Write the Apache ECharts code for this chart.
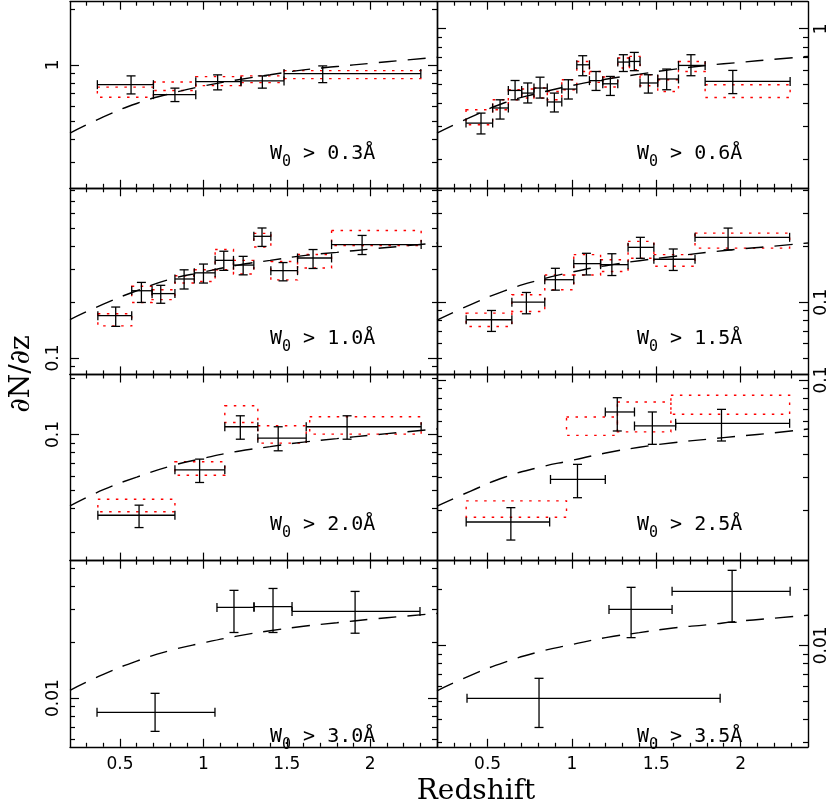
<!DOCTYPE html>
<html>
<head>
<meta charset="utf-8">
<title>dN/dz</title>
<script src="https://cdn.jsdelivr.net/npm/echarts@6/dist/echarts.min.js"></script>
<style>
body { margin: 0; background: #fff; }
#main { width: 830px; height: 807px; }
</style>
</head>
<body>
<div id="main"></div>
<script>
// W0 cuts, panels left->right, top->bottom
var cuts = ['0.3', '0.6', '1.0', '1.5', '2.0', '2.5', '3.0', '3.5'];

// log y range of each panel
var yMin = [0.218, 0.1397, 0.0817, 0.0409, 0.021, 0.0107, 0.00547, 0.00285];
var yMax = [2.19, 1.397, 0.817, 0.409, 0.21, 0.107, 0.0547, 0.0285];
var xLabels = [0.5, 1, 1.5, 2];

// [z mean, z low, z high, dN/dz, err low, err high]
var pts03 = [
    [0.566, 0.364, 0.700, 0.783, 0.698, 0.873],
    [0.829, 0.700, 0.954, 0.692, 0.635, 0.75],
    [1.085, 0.954, 1.225, 0.813, 0.734, 0.884],
    [1.353, 1.225, 1.483, 0.82, 0.75, 0.873],
    [1.715, 1.483, 2.303, 0.898, 0.803, 0.988]
];
var pts06 = [
    [0.461, 0.372, 0.530, 0.311, 0.272, 0.352],
    [0.574, 0.530, 0.623, 0.375, 0.327, 0.415],
    [0.663, 0.623, 0.702, 0.466, 0.415, 0.527],
    [0.738, 0.702, 0.775, 0.451, 0.399, 0.511],
    [0.811, 0.775, 0.854, 0.48, 0.424, 0.549],
    [0.896, 0.854, 0.94, 0.404, 0.357, 0.451],
    [0.979, 0.94, 1.029, 0.474, 0.419, 0.532],
    [1.064, 1.029, 1.104, 0.64, 0.559, 0.716],
    [1.143, 1.104, 1.183, 0.526, 0.466, 0.589],
    [1.228, 1.183, 1.272, 0.506, 0.438, 0.554],
    [1.305, 1.272, 1.341, 0.662, 0.589, 0.725],
    [1.370, 1.341, 1.404, 0.667, 0.595, 0.746],
    [1.453, 1.404, 1.509, 0.511, 0.451, 0.566],
    [1.562, 1.509, 1.632, 0.537, 0.47, 0.607],
    [1.706, 1.632, 1.79, 0.635, 0.559, 0.725],
    [1.954, 1.79, 2.294, 0.521, 0.448, 0.597]
];
var pts10 = [
    [0.474, 0.367, 0.57, 0.169, 0.148, 0.188],
    [0.628, 0.57, 0.692, 0.23, 0.199, 0.255],
    [0.744, 0.692, 0.829, 0.222, 0.197, 0.246],
    [0.884, 0.829, 0.945, 0.266, 0.235, 0.298],
    [1.0, 0.945, 1.07, 0.287, 0.253, 0.32],
    [1.122, 1.07, 1.18, 0.335, 0.296, 0.375],
    [1.238, 1.18, 1.302, 0.316, 0.28, 0.352],
    [1.351, 1.302, 1.404, 0.451, 0.398, 0.5],
    [1.477, 1.404, 1.564, 0.295, 0.26, 0.326],
    [1.657, 1.564, 1.768, 0.345, 0.303, 0.383],
    [1.951, 1.768, 2.305, 0.407, 0.36, 0.456]
];
var pts15 = [
    [0.523, 0.373, 0.644, 0.0804, 0.0696, 0.0902],
    [0.73, 0.644, 0.839, 0.1, 0.0866, 0.1127],
    [0.902, 0.839, 1.011, 0.132, 0.116, 0.152],
    [1.086, 1.011, 1.17, 0.161, 0.14, 0.183],
    [1.237, 1.17, 1.333, 0.159, 0.139, 0.182],
    [1.406, 1.333, 1.486, 0.197, 0.172, 0.223],
    [1.601, 1.486, 1.73, 0.17, 0.148, 0.193],
    [1.926, 1.73, 2.291, 0.223, 0.191, 0.25]
];
var pts20 = [
    [0.614, 0.367, 0.829, 0.0368, 0.0316, 0.0417],
    [0.977, 0.829, 1.128, 0.0646, 0.0552, 0.0737],
    [1.221, 1.128, 1.326, 0.11, 0.0943, 0.126],
    [1.448, 1.326, 1.616, 0.0955, 0.0817, 0.11],
    [1.861, 1.616, 2.305, 0.11, 0.0943, 0.126]
];
var pts25 = [
    [0.638, 0.373, 0.868, 0.01725, 0.0138, 0.0206],
    [1.033, 0.873, 1.198, 0.0292, 0.0233, 0.0352],
    [1.269, 1.198, 1.371, 0.0673, 0.0532, 0.0803],
    [1.477, 1.371, 1.615, 0.0566, 0.0451, 0.0673],
    [1.887, 1.615, 2.291, 0.0585, 0.047, 0.0695]
];
var pts30 = [
    [0.71, 0.362, 1.069, 0.00838, 0.00662, 0.0106],
    [1.183, 1.081, 1.303, 0.0307, 0.0225, 0.0379],
    [1.417, 1.303, 1.531, 0.031, 0.0225, 0.0388],
    [1.909, 1.531, 2.298, 0.0292, 0.0223, 0.0374]
];
var pts35 = [
    [0.805, 0.378, 1.879, 0.00519, 0.00362, 0.00665],
    [1.351, 1.22, 1.594, 0.0156, 0.011, 0.0205],
    [1.95, 1.594, 2.294, 0.0195, 0.0133, 0.0253]
];

// red dotted boxes: [z low, z high, dN/dz low, dN/dz high]
var box03 = [
    [0.364, 0.700, 0.67, 0.759], [0.700, 0.954, 0.728, 0.81], [0.954, 1.225, 0.774, 0.865],
    [1.225, 1.483, 0.803, 0.873], [1.483, 2.303, 0.844, 0.932]
];
var box06 = [
    [0.372, 0.530, 0.305, 0.367], [0.530, 0.623, 0.367, 0.415], [0.623, 0.702, 0.415, 0.47],
    [0.702, 0.775, 0.424, 0.474], [0.775, 0.854, 0.424, 0.48], [0.854, 0.94, 0.415, 0.46],
    [0.94, 1.029, 0.47, 0.532], [1.029, 1.104, 0.589, 0.667], [1.104, 1.183, 0.515, 0.589],
    [1.183, 1.272, 0.486, 0.55], [1.272, 1.341, 0.615, 0.696], [1.341, 1.404, 0.602, 0.71],
    [1.404, 1.509, 0.494, 0.566], [1.509, 1.632, 0.46, 0.532], [1.632, 1.79, 0.589, 0.667],
    [1.79, 2.294, 0.427, 0.5]
];
var box10 = [
    [0.367, 0.57, 0.149, 0.173], [0.57, 0.692, 0.199, 0.243], [0.692, 0.829, 0.206, 0.233],
    [0.829, 0.945, 0.253, 0.277], [0.945, 1.07, 0.258, 0.298], [1.07, 1.18, 0.298, 0.383],
    [1.18, 1.302, 0.283, 0.335], [1.302, 1.404, 0.395, 0.468], [1.404, 1.564, 0.263, 0.33],
    [1.564, 1.768, 0.305, 0.36], [1.768, 2.305, 0.402, 0.485]
];
var box15 = [
    [0.373, 0.644, 0.074, 0.0873], [0.644, 0.839, 0.0891, 0.1096], [0.839, 1.011, 0.1166, 0.14],
    [1.011, 1.17, 0.14, 0.18], [1.17, 1.333, 0.146, 0.169], [1.333, 1.486, 0.172, 0.212],
    [1.486, 1.73, 0.156, 0.18], [1.73, 2.291, 0.195, 0.235]
];
var box20 = [
    [0.367, 0.829, 0.0384, 0.0449], [0.829, 1.128, 0.0604, 0.0713], [1.128, 1.326, 0.116, 0.1426],
    [1.326, 1.616, 0.0898, 0.1113], [1.637, 2.305, 0.1004, 0.1245]
];
var box25 = [
    [0.373, 0.968, 0.0183, 0.0224], [0.968, 1.27, 0.0504, 0.0632],
    [1.27, 1.587, 0.0526, 0.0762], [1.587, 2.291, 0.0654, 0.0827]
];
var box30 = [];
var box35 = [];

// dashed model curve
var zCurve = [0.2, 0.4, 0.6, 0.8, 1.0, 1.2, 1.4, 1.6, 1.8, 2.0, 2.2, 2.4];
var fit03 = [0.43, 0.525, 0.62, 0.70, 0.77, 0.83, 0.885, 0.94, 0.98, 1.02, 1.06, 1.1];
var fit06 = [0.275, 0.335, 0.40, 0.45, 0.495, 0.535, 0.57, 0.605, 0.635, 0.66, 0.685, 0.71];
var fit10 = [0.161, 0.195, 0.23, 0.265, 0.29, 0.315, 0.335, 0.355, 0.37, 0.385, 0.40, 0.415];
var fit15 = [0.08, 0.097, 0.115, 0.131, 0.145, 0.157, 0.167, 0.176, 0.185, 0.193, 0.2, 0.208];
var fit20 = [0.0413, 0.0505, 0.059, 0.0675, 0.0745, 0.081, 0.086, 0.091, 0.095, 0.099, 0.103, 0.107];
var fit25 = [0.021, 0.0253, 0.030, 0.0338, 0.037, 0.0405, 0.0435, 0.046, 0.048, 0.050, 0.052, 0.0545];
var fit30 = [0.011, 0.0134, 0.0158, 0.018, 0.0198, 0.0215, 0.023, 0.0243, 0.0254, 0.0265, 0.0275, 0.0285];
var fit35 = [0.0057, 0.0069, 0.0081, 0.0092, 0.0101, 0.011, 0.0117, 0.0124, 0.0129, 0.0135, 0.014, 0.0145];

var allPts = [pts03, pts06, pts10, pts15, pts20, pts25, pts30, pts35];
var allBox = [box03, box06, box10, box15, box20, box25, box30, box35];
var allFit = [fit03, fit06, fit10, fit15, fit20, fit25, fit30, fit35];

// panel layout in px
var colLeft = [70, 437], colWidth = [367, 371];
var rowTop = [1.7, 188.3, 374.5, 560.7], rowH = 186.1;
// where the W0 label sits below each row's top edge
var labelDrop = [137, 135, 135, 161];

var black = '#000';

var xMinor = [];
for (var v = 3; v <= 23; v++) {
    if (v % 5 !== 0) xMinor.push(v / 10);
}

function logTicks(lo, hi) {
    var major = [], minor = [];
    for (var e = Math.floor(Math.log10(lo)); e <= Math.ceil(Math.log10(hi)); e++) {
        for (var k = 1; k <= 9; k++) {
            var t = +(k * Math.pow(10, e)).toPrecision(6);
            if (t <= lo || t >= hi) continue;
            (k === 1 ? major : minor).push(t);
        }
    }
    return { major: major, minor: minor };
}

function xAx(i, pos, vals, len, line, label) {
    return {
        type: 'value', gridIndex: i, position: pos, min: 0.2, max: 2.4,
        axisLine: { show: line, onZero: false, lineStyle: { color: black, width: 1.4 } },
        axisTick: { show: true, inside: true, length: len, customValues: vals, lineStyle: { color: black, width: 1.2 } },
        axisLabel: { show: label, customValues: vals, margin: 9, color: black, fontSize: 17, fontFamily: 'DejaVu Sans' },
        splitLine: { show: false }
    };
}

function yAx(i, pos, vals, len, line, label) {
    return {
        type: 'log', logBase: 10, gridIndex: i, position: pos, min: yMin[i], max: yMax[i],
        axisLine: { show: line, lineStyle: { color: black, width: 1.4 } },
        axisTick: { show: true, inside: true, length: len, customValues: vals, lineStyle: { color: black, width: 1.2 } },
        axisLabel: {
            show: label, customValues: vals, rotate: 90, margin: pos === 'left' ? 8 : 5,
            color: black, fontSize: 17, fontFamily: 'DejaVu Sans'
        },
        splitLine: { show: false }
    };
}

function seg(x1, y1, x2, y2) {
    return { type: 'line', shape: { x1: x1, y1: y1, x2: x2, y2: y2 }, style: { stroke: black, lineWidth: 1.3 } };
}

function renderCross(params, api) {
    var zc = api.value(0), z0 = api.value(1), z1 = api.value(2);
    var y = api.value(3), y0 = api.value(4), y1 = api.value(5);
    var l = api.coord([z0, y]), r = api.coord([z1, y]);
    var b = api.coord([zc, y0]), t = api.coord([zc, y1]);
    var cap = 4.5;
    return {
        type: 'group',
        children: [
            seg(l[0], l[1], r[0], r[1]),
            seg(l[0], l[1] - cap, l[0], l[1] + cap),
            seg(r[0], r[1] - cap, r[0], r[1] + cap),
            seg(b[0], b[1], t[0], t[1]),
            seg(b[0] - cap, b[1], b[0] + cap, b[1]),
            seg(t[0] - cap, t[1], t[0] + cap, t[1])
        ]
    };
}

function renderBox(params, api) {
    var p0 = api.coord([api.value(0), api.value(3)]);
    var p1 = api.coord([api.value(1), api.value(2)]);
    return {
        type: 'rect',
        shape: { x: p0[0], y: p0[1], width: p1[0] - p0[0], height: p1[1] - p0[1] },
        style: { fill: 'none', stroke: '#ff0000', lineWidth: 1.4, lineDash: [2.5, 6.5] }
    };
}

function buildOption() {
    var grids = [], xAxes = [], yAxes = [], series = [], graphics = [];

    for (var i = 0; i < 8; i++) {
        var col = i % 2, row = Math.floor(i / 2);
        var gLeft = colLeft[col], gTop = rowTop[row];
        grids.push({ left: gLeft, top: gTop, width: colWidth[col], height: rowH });

        xAxes.push(xAx(i, 'bottom', xLabels, 8, true, row === 3));
        xAxes.push(xAx(i, 'bottom', xMinor, 4, false, false));
        xAxes.push(xAx(i, 'top', xLabels, 8, true, false));
        xAxes.push(xAx(i, 'top', xMinor, 4, false, false));

        var tk = logTicks(yMin[i], yMax[i]);
        yAxes.push(yAx(i, 'left', tk.major, 9, true, col === 0));
        yAxes.push(yAx(i, 'left', tk.minor, 5, false, false));
        yAxes.push(yAx(i, 'right', tk.major, 9, true, col === 1));
        yAxes.push(yAx(i, 'right', tk.minor, 5, false, false));

        var fit = allFit[i];
        series.push({
            type: 'line', xAxisIndex: 4 * i, yAxisIndex: 4 * i,
            data: zCurve.map(function (z, k) { return [z, fit[k]]; }),
            smooth: true, symbol: 'none',
            lineStyle: { color: black, width: 1.4, type: [18, 11] }
        });
        series.push({
            type: 'custom', xAxisIndex: 4 * i, yAxisIndex: 4 * i,
            data: allBox[i], renderItem: renderBox,
            encode: { x: [0, 1], y: [2, 3] }
        });
        series.push({
            type: 'custom', xAxisIndex: 4 * i, yAxisIndex: 4 * i,
            data: allPts[i], renderItem: renderCross,
            encode: { x: [0, 1, 2], y: [3, 4, 5] }
        });

        graphics.push({
            type: 'text', x: gLeft + 200, y: gTop + labelDrop[row],
            style: {
                text: '{w|W}{s|0}{w| > ' + cuts[i] + 'Å}',
                fill: black,
                rich: {
                    w: { fontSize: 20, fontFamily: 'DejaVu Sans Mono' },
                    s: { fontSize: 15, fontFamily: 'DejaVu Sans Mono', padding: [16, 0, 0, 0] }
                }
            }
        });
    }

    graphics.push({
        type: 'text', x: 22, y: 374, rotation: Math.PI / 2,
        style: {
            text: '∂N/∂z', fill: black, fontSize: 28, fontFamily: 'DejaVu Serif',
            align: 'center', verticalAlign: 'middle'
        }
    });
    graphics.push({
        type: 'text', x: 476, y: 792,
        style: {
            text: 'Redshift', fill: black, fontSize: 28, fontFamily: 'DejaVu Serif',
            align: 'center', verticalAlign: 'middle'
        }
    });

    return {
        animation: false,
        grid: grids,
        xAxis: xAxes,
        yAxis: yAxes,
        series: series,
        graphic: graphics
    };
}

var myChart = echarts.init(document.getElementById('main'));
myChart.setOption(buildOption());
</script>
</body>
</html>
